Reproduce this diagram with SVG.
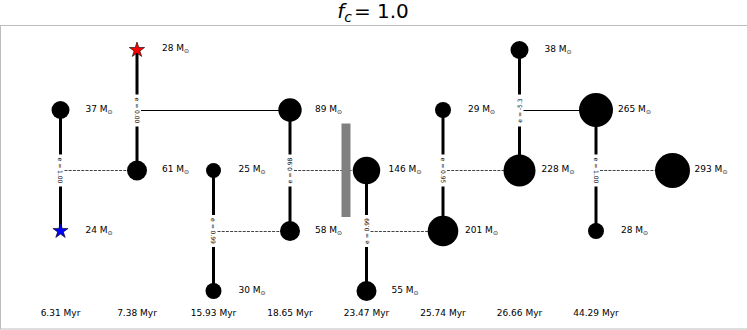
<svg xmlns="http://www.w3.org/2000/svg" width="747" height="330" viewBox="0 0 747 330">
<style>
text{font-family:"DejaVu Sans","Liberation Sans",sans-serif;fill:#000}
.m{font-size:9px;text-anchor:middle}
.t{font-size:9px;text-anchor:middle}
.e{font-size:6px;text-anchor:middle}
.v{stroke:#000;stroke-width:3;fill:none}
.d{stroke:#444;stroke-width:1;stroke-dasharray:3,1.2;fill:none}
.s{stroke:#000;stroke-width:1;fill:none}
.w{fill:#fff}
.sub{font-size:6px}
</style>
<defs>
<path id="star" d="M0,-8 L1.796,-2.472 L7.608,-2.472 L2.906,0.944 L4.702,6.472 L0,3.056 L-4.702,6.472 L-2.906,0.944 L-7.608,-2.472 L-1.796,-2.472 Z" stroke="#000" stroke-width="0.6"/>
</defs>
<rect x="0" y="0" width="747" height="330" fill="#fff"/>
<rect x="0.5" y="25.5" width="760" height="303.5" fill="none" stroke="#bdbdbd" stroke-width="1"/>
<text x="373" y="18" style="font-size:20px" text-anchor="middle"><tspan font-style="italic">f</tspan><tspan font-style="italic" font-size="14" dy="4">c</tspan><tspan dy="-4" dx="2">= 1.0</tspan></text>

<g id="connectors">
<line class="v" x1="60.5" y1="110" x2="60.5" y2="231"/>
<line class="d" x1="64.5" y1="170.5" x2="137" y2="170.5"/>
<line class="v" x1="137" y1="50" x2="137" y2="170.5"/>
<line class="s" x1="141" y1="110.5" x2="290" y2="110.5"/>
<line class="v" x1="213.5" y1="170.5" x2="213.5" y2="291"/>
<line class="d" x1="217.5" y1="231.5" x2="290" y2="231.5"/>
<line class="v" x1="290" y1="110" x2="290" y2="231"/>
<line class="d" x1="294" y1="170.5" x2="366.5" y2="170.5"/>
<line class="v" x1="366.5" y1="170.5" x2="366.5" y2="291"/>
<line class="d" x1="370.5" y1="231.5" x2="443" y2="231.5"/>
<line class="v" x1="443" y1="110" x2="443" y2="231"/>
<line class="d" x1="447" y1="170.5" x2="519.5" y2="170.5"/>
<line class="v" x1="519.5" y1="50" x2="519.5" y2="170.5"/>
<line class="s" x1="523.5" y1="110.5" x2="596" y2="110.5"/>
<line class="v" x1="596" y1="110" x2="596" y2="231"/>
<line class="d" x1="600" y1="170.5" x2="672.5" y2="170.5"/>

<rect class="w" x="57" y="154.5" width="7" height="32"/>
<text class="e" transform="translate(60.5,170.5) rotate(90)" dy="2.1">e = 1.00</text>
<rect class="w" x="133.5" y="94.5" width="7" height="32"/>
<text class="e" transform="translate(137,110.5) rotate(90)" dy="2.1">e = 0.00</text>
<rect class="w" x="210" y="215" width="7" height="32"/>
<text class="e" transform="translate(213.5,231) rotate(90)" dy="2.1">e = 0.99</text>
<rect class="w" x="286.5" y="154.5" width="7" height="32"/>
<text class="e" transform="translate(290,170.5) rotate(-90)" dy="2.1">e = 0.98</text>
<rect class="w" x="363" y="215" width="7" height="32"/>
<text class="e" transform="translate(366.5,231) rotate(-90)" dy="2.1">e = 0.99</text>
<rect class="w" x="439.5" y="154.5" width="7" height="32"/>
<text class="e" transform="translate(443,170.5) rotate(90)" dy="2.1">e = 0.95</text>
<rect class="w" x="516" y="94.5" width="7" height="32"/>
<text class="e" transform="translate(519.5,110.5) rotate(-90)" dy="2.1">e = -5.3</text>
<rect class="w" x="592.5" y="154.5" width="7" height="32"/>
<text class="e" transform="translate(596,170.5) rotate(90)" dy="2.1">e = 1.00</text>
</g>

<rect id="bar" x="341.5" y="123.5" width="9" height="93.5" fill="#808080"/>

<g id="n37"><circle cx="60.5" cy="110" r="9"/><text class="m" x="99" y="111.5">37 M<tspan class="sub" dy="2">⊙</tspan></text></g>
<g id="n24"><use href="#star" x="60.5" y="231" fill="#0000ff"/><text class="m" x="99" y="232.5">24 M<tspan class="sub" dy="2">⊙</tspan></text></g>
<g id="n28a"><use href="#star" x="137" y="50" fill="#ff0000"/><text class="m" x="175.5" y="51">28 M<tspan class="sub" dy="2">⊙</tspan></text></g>
<g id="n61"><circle cx="137" cy="170.5" r="10"/><text class="m" x="175.5" y="172">61 M<tspan class="sub" dy="2">⊙</tspan></text></g>
<g id="n25"><circle cx="213.5" cy="170.5" r="7.5"/><text class="m" x="252" y="172">25 M<tspan class="sub" dy="2">⊙</tspan></text></g>
<g id="n30"><circle cx="213.5" cy="291" r="8"/><text class="m" x="252" y="292.5">30 M<tspan class="sub" dy="2">⊙</tspan></text></g>
<g id="n89"><circle cx="290" cy="110" r="11.7"/><text class="m" x="328.5" y="111.5">89 M<tspan class="sub" dy="2">⊙</tspan></text></g>
<g id="n58"><circle cx="290" cy="231" r="10"/><text class="m" x="328.5" y="232.5">58 M<tspan class="sub" dy="2">⊙</tspan></text></g>
<g id="n146"><circle cx="366.5" cy="170.5" r="13.7"/><text class="m" x="405" y="172">146 M<tspan class="sub" dy="2">⊙</tspan></text></g>
<g id="n55"><circle cx="366.5" cy="291" r="10"/><text class="m" x="405" y="292.5">55 M<tspan class="sub" dy="2">⊙</tspan></text></g>
<g id="n29"><circle cx="443" cy="110" r="8"/><text class="m" x="481.5" y="111.5">29 M<tspan class="sub" dy="2">⊙</tspan></text></g>
<g id="n201"><circle cx="443" cy="231" r="15.3"/><text class="m" x="481.5" y="232.5">201 M<tspan class="sub" dy="2">⊙</tspan></text></g>
<g id="n38"><circle cx="519.5" cy="50" r="9"/><text class="m" x="558" y="51.5">38 M<tspan class="sub" dy="2">⊙</tspan></text></g>
<g id="n228"><circle cx="519.5" cy="170.5" r="16"/><text class="m" x="558" y="172">228 M<tspan class="sub" dy="2">⊙</tspan></text></g>
<g id="n265"><circle cx="596" cy="110" r="17"/><text class="m" x="634.5" y="111.5">265 M<tspan class="sub" dy="2">⊙</tspan></text></g>
<g id="n28b"><circle cx="596" cy="231" r="8"/><text class="m" x="634.5" y="232.5">28 M<tspan class="sub" dy="2">⊙</tspan></text></g>
<g id="n293"><circle cx="672.5" cy="170.5" r="17.5"/><text class="m" x="711" y="172">293 M<tspan class="sub" dy="2">⊙</tspan></text></g>

<g id="times">
<text class="t" x="60.5" y="315.5">6.31 Myr</text>
<text class="t" x="137" y="315.5">7.38 Myr</text>
<text class="t" x="213.5" y="315.5">15.93 Myr</text>
<text class="t" x="290" y="315.5">18.65 Myr</text>
<text class="t" x="366.5" y="315.5">23.47 Myr</text>
<text class="t" x="443" y="315.5">25.74 Myr</text>
<text class="t" x="519.5" y="315.5">26.66 Myr</text>
<text class="t" x="596" y="315.5">44.29 Myr</text>
</g>
</svg>
